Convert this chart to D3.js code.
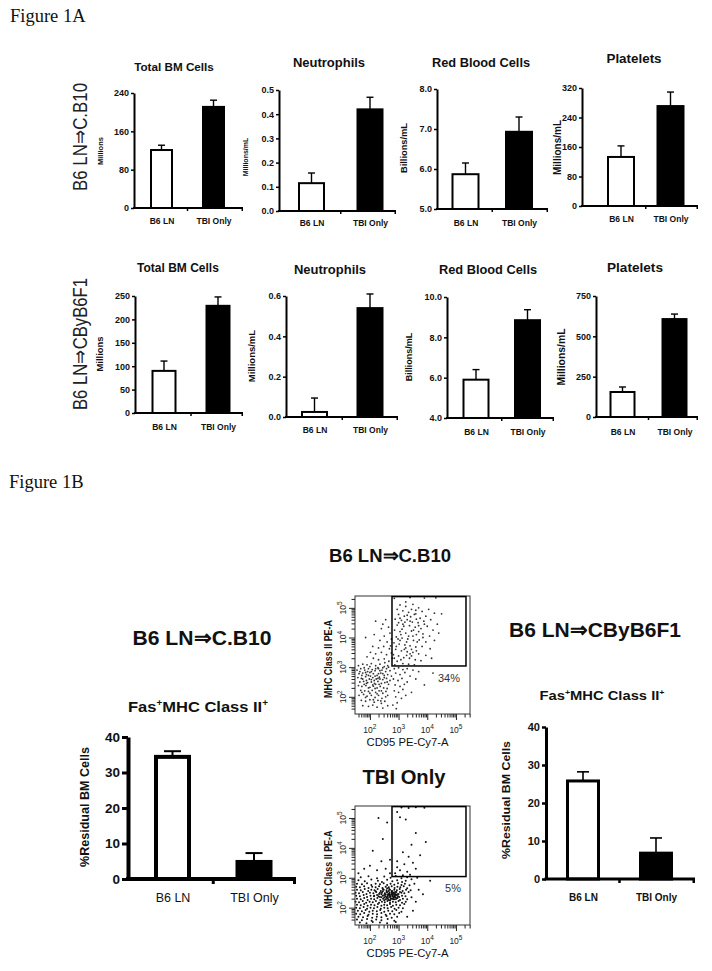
<!DOCTYPE html>
<html><head><meta charset="utf-8">
<script src="https://cdn.jsdelivr.net/npm/d3@7"></script>
<style>body{margin:0;background:#fff}svg{display:block}</style>
</head><body><svg id="c" width="712" height="971"></svg>
<script>
// ---------------- DATA ----------------
const groups = ["B6 LN", "TBI Only"];
const titles = ["Total BM Cells", "Neutrophils", "Red Blood Cells", "Platelets"];
const units = ["Millions", "Millions/mL", "Billions/mL", "Millions/mL"];
const rowLabels = ["B6 LN\u21D2C.B10", "B6 LN\u21D2CByB6F1"];

// Figure 1A row 1 (B6 LN => C.B10)
const row1Means = [[121, 211], [0.115, 0.42], [5.87, 6.93], [133, 271]];
const row1Sem = [[10, 14], [0.042, 0.05], [0.28, 0.37], [30, 38]];
const row1Ticks = [[0, 80, 160, 240], [0, 0.1, 0.2, 0.3, 0.4, 0.5], [5, 6, 7, 8], [0, 80, 160, 240, 320]];
const row1Fmt = ["d", ".1f", ".1f", "d"];

// Figure 1A row 2 (B6 LN => CByB6F1)
const row2Means = [[90, 229], [0.025, 0.54], [5.9, 8.85], [155, 607]];
const row2Sem = [[21, 19], [0.069, 0.07], [0.5, 0.52], [31, 31]];
const row2Ticks = [[0, 50, 100, 150, 200, 250], [0, 0.2, 0.4, 0.6], [4, 6, 8, 10], [0, 250, 500, 750]];
const row2Fmt = ["d", ".1f", ".1f", "d"];

// Figure 1B bar charts (% residual BM cells, Fas+ MHC class II+)
const fasMeansCB10 = [34.4, 4.8];
const fasSemCB10 = [1.6, 2.5];
const fasMeansCBy = [25.8, 6.8];
const fasSemCBy = [2.4, 4.0];
const fasTicks = [0, 10, 20, 30, 40];

// Flow plots: log10(CD95 PE-Cy7-A), log10(MHC Class II PE-A)
const flowDecades = [2, 3, 4, 5];
const flowLogX = [1.48, 5.49];
const flowLogY = [1.42, 5.4];
const gateLogX = [2.77, 5.35];
const gateLogY = [3.04, 5.38];
const gatePct = ["34%", "5%"];
const flowCB10 = [
[2.85,5.32],[3.4,5.35],[3.9,5.33],[4.3,5.34],[3.05,5.1],[3.25,5.05],[3.5,5.12],[3.7,5.0],[2.95,4.95],[3.15,4.9],[3.35,4.85],[3.6,4.92],[3.82,4.88],[4.05,4.95],[4.25,4.82],[3.0,4.78],[3.2,4.72],[3.42,4.7],[3.55,4.78],[3.75,4.65],[3.95,4.72],[4.5,4.8],[2.88,4.62],[3.1,4.58],[3.3,4.6],[3.48,4.52],[3.68,4.5],[3.88,4.55],[4.12,4.6],[4.35,4.45],[2.95,4.42],[3.18,4.38],[3.38,4.4],[3.58,4.35],[3.78,4.3],[4.0,4.38],[4.2,4.25],[2.86,4.25],[3.05,4.2],[3.25,4.15],[3.45,4.22],[3.62,4.1],[3.85,4.12],[4.08,4.05],[2.92,4.02],[3.12,3.98],[3.32,3.95],[3.52,3.9],[3.72,3.92],[3.95,3.85],[4.25,3.9],[2.84,3.82],[3.02,3.78],[3.22,3.75],[3.4,3.72],[3.6,3.68],[3.82,3.7],[4.1,3.62],[2.9,3.6],[3.1,3.55],[3.3,3.52],[3.5,3.5],[3.7,3.45],[3.95,3.4],[2.82,3.42],[3.0,3.38],[3.18,3.32],[3.38,3.3],[3.58,3.25],[3.78,3.22],[2.95,3.2],[3.15,3.12],[3.35,3.1],[3.55,3.08],[2.87,3.08],[3.08,3.25],[3.28,3.4],[3.45,3.6],[3.65,3.85],[3.35,4.05],[3.15,4.45],[3.45,4.95],[3.9,4.45],[3.62,4.62],[4.4,4.15],[4.15,3.3],[3.05,4.65],[2.98,3.95],[3.25,3.65],[3.52,4.25],
[3.0,4.5],[3.22,4.52],[3.4,4.55],[3.7,4.4],[3.12,4.28],[3.5,4.05],[3.28,3.85],[3.05,3.9],[3.62,3.55],[2.92,3.7],[3.2,3.6],[3.4,3.45],[3.85,4.0],[3.3,4.75],[3.08,4.1],[3.7,4.2],[2.85,3.3],[3.45,3.38],[3.6,4.8],[3.25,5.2],
[2.2,4.55],[2.55,4.6],[2.4,4.3],[2.65,4.35],[2.15,4.1],[2.5,4.05],[2.7,4.15],[2.35,3.9],[2.6,3.85],[2.75,3.95],[2.1,3.7],[2.3,3.65],[2.48,3.7],[2.68,3.62],[2.02,3.5],[2.2,3.45],[2.4,3.5],[2.58,3.42],[2.75,3.48],[1.9,3.35],[2.12,3.3],[2.3,3.25],[2.5,3.28],[2.66,3.2],[2.78,3.3],[1.85,4.0],[2.45,4.45],[2.62,3.05],[2.72,3.72],[2.52,3.15],
[1.6,3.05],[1.75,3.1],[1.9,3.08],[2.05,3.12],[2.2,3.05],[2.35,3.1],[2.5,3.02],[2.65,3.0],[1.55,2.9],[1.68,2.95],[1.82,2.9],[1.95,2.95],[2.08,2.92],[2.18,2.88],[2.3,2.95],[2.42,2.9],[2.55,2.85],[2.7,2.88],[1.62,2.78],[1.75,2.8],[1.88,2.75],[2.0,2.82],[2.12,2.78],[2.25,2.72],[2.38,2.8],[2.5,2.72],[2.62,2.75],[2.75,2.7],[1.58,2.65],[1.7,2.62],[1.85,2.68],[1.98,2.6],[2.1,2.65],[2.22,2.6],[2.33,2.66],[2.45,2.58],[2.58,2.62],[2.7,2.55],[1.65,2.5],[1.78,2.52],[1.92,2.48],[2.05,2.5],[2.16,2.45],[2.28,2.52],[2.4,2.45],[2.52,2.48],[2.65,2.42],[1.6,2.38],[1.72,2.35],[1.86,2.38],[2.0,2.32],[2.12,2.36],[2.25,2.3],[2.36,2.35],[2.48,2.3],[2.6,2.28],[1.68,2.22],[1.82,2.2],[1.95,2.18],[2.08,2.22],[2.2,2.15],[2.32,2.2],[2.45,2.12],[2.56,2.18],[1.62,2.05],[1.78,2.08],[1.9,2.02],[2.05,2.05],[2.18,1.98],[2.3,2.05],[2.42,1.95],[2.55,2.0],[1.7,1.88],[1.85,1.85],[2.0,1.9],[2.15,1.82],[2.28,1.88],[2.4,1.78],[2.52,1.85],[1.75,1.7],[1.95,1.68],[2.1,1.72],[2.25,1.65],[2.45,1.62],[2.62,1.7],[1.88,2.55],[2.02,2.7],[2.15,2.55],[1.8,2.42],[2.2,2.42],[1.92,2.85],[2.35,2.6],[2.58,2.95],[2.45,2.78],[1.72,2.72],
[1.8,2.98],[2.0,3.02],[2.28,2.98],[2.45,2.98],[1.65,2.85],[1.85,2.82],[2.05,2.85],[2.2,2.95],[2.35,2.88],[1.95,2.72],[2.18,2.7],[2.3,2.78],[2.5,2.65],[1.75,2.6],[2.05,2.58],[2.28,2.62],[1.88,2.45],[2.1,2.4],[2.32,2.42],[2.6,2.5],[1.95,2.3],[2.18,2.28],[2.4,2.2],[1.72,2.15],[2.0,2.12],[2.25,2.1],[1.85,1.98],[2.12,1.9],[2.38,1.86],[2.62,2.05],
[2.85,2.95],[3.0,2.98],[3.15,2.92],[3.3,2.95],[3.5,2.9],[2.9,2.8],[3.05,2.75],[3.22,2.82],[3.4,2.7],[2.82,2.6],[2.98,2.55],[3.12,2.62],[3.3,2.5],[2.88,2.4],[3.05,2.35],[3.2,2.42],[2.85,2.2],[3.0,2.15],[3.15,2.25],[2.9,2.0],[3.1,1.95],[2.95,1.8],[2.8,1.72],[3.6,2.6],[3.9,2.4],[3.45,2.15],[4.2,2.8],[3.7,2.85],[2.92,1.6],[3.25,2.05]
];
const flowTBI = [
[3.1,5.35],[3.35,5.33],[3.6,5.36],[3.9,5.34],[2.95,5.2],[3.05,5.02],[3.25,4.95],[3.6,4.5],[3.45,4.1],[3.95,4.2],[3.15,3.85],[3.35,3.7],[2.95,3.55],[3.2,3.45],[3.5,3.5],[3.05,3.25],[3.3,3.2],[2.88,3.15],[3.6,3.3],[3.15,3.08],[2.95,3.35],[3.75,3.75],
[2.3,5.0],[2.6,4.85],[2.45,4.3],[2.1,3.9],[2.7,3.6],[2.4,3.55],[2.0,3.4],[2.55,3.3],[2.25,3.25],[2.7,3.15],[1.8,3.3],[1.6,3.15],
[1.68,3.02],[1.95,3.05],[2.25,2.98],[2.5,3.04],[2.72,3.0],[2.9,3.06],[3.1,2.98],[3.3,3.02],
[1.6,2.92],[1.82,2.88],[2.05,2.94],[2.28,2.9],[2.42,2.86],[2.6,2.93],[2.78,2.88],[2.95,2.92],[3.12,2.86],[3.25,2.9],[3.45,2.95],
[1.55,2.8],[1.72,2.78],[1.9,2.82],[2.05,2.76],[2.2,2.8],[2.35,2.78],[2.48,2.82],[2.6,2.76],[2.72,2.8],[2.85,2.77],[2.98,2.82],[3.1,2.76],[3.22,2.8],[3.38,2.75],
[1.52,2.7],[1.65,2.68],[1.8,2.72],[1.95,2.66],[2.08,2.7],[2.2,2.68],[2.32,2.72],[2.44,2.66],[2.55,2.7],[2.66,2.68],[2.76,2.72],[2.86,2.66],[2.96,2.7],[3.06,2.68],[3.18,2.72],[3.3,2.65],
[1.55,2.6],[1.68,2.58],[1.82,2.62],[1.94,2.56],[2.05,2.6],[2.16,2.58],[2.27,2.62],[2.38,2.56],[2.48,2.6],[2.58,2.58],[2.67,2.62],[2.76,2.56],[2.85,2.6],[2.94,2.58],[3.04,2.62],[3.14,2.56],[3.26,2.6],[3.42,2.58],
[1.5,2.5],[1.62,2.48],[1.75,2.52],[1.88,2.46],[2.0,2.5],[2.12,2.48],[2.22,2.52],[2.32,2.46],[2.42,2.5],[2.52,2.48],[2.6,2.52],[2.68,2.46],[2.76,2.5],[2.84,2.48],[2.92,2.52],[3.0,2.46],[3.1,2.5],[3.2,2.48],[3.35,2.52],
[1.52,2.4],[1.65,2.38],[1.78,2.42],[1.9,2.36],[2.02,2.4],[2.14,2.38],[2.25,2.42],[2.35,2.36],[2.45,2.4],[2.54,2.38],[2.62,2.42],[2.7,2.36],[2.78,2.4],[2.86,2.38],[2.94,2.42],[3.02,2.36],[3.12,2.4],[3.24,2.38],[2.66,2.44],[2.82,2.34],
[1.55,2.3],[1.68,2.28],[1.8,2.32],[1.92,2.26],[2.04,2.3],[2.15,2.28],[2.26,2.32],[2.36,2.26],[2.46,2.3],[2.55,2.28],[2.63,2.32],[2.71,2.26],[2.79,2.3],[2.87,2.28],[2.96,2.32],[3.05,2.26],[3.15,2.3],[3.3,2.28],
[1.5,2.2],[1.62,2.18],[1.75,2.22],[1.87,2.16],[1.99,2.2],[2.1,2.18],[2.21,2.22],[2.32,2.16],[2.42,2.2],[2.52,2.18],[2.61,2.22],[2.7,2.16],[2.8,2.2],[2.9,2.18],[3.0,2.22],[3.12,2.16],[3.25,2.2],
[1.55,2.1],[1.68,2.08],[1.8,2.12],[1.92,2.06],[2.04,2.1],[2.16,2.08],[2.28,2.12],[2.4,2.06],[2.5,2.1],[2.6,2.08],[2.7,2.12],[2.8,2.06],[2.92,2.1],[3.05,2.08],[3.2,2.12],
[1.52,2.0],[1.65,1.98],[1.78,2.02],[1.9,1.96],[2.02,2.0],[2.14,1.98],[2.26,2.02],[2.38,1.96],[2.5,2.0],[2.62,1.98],[2.74,2.02],[2.86,1.96],[3.0,2.0],[3.15,1.98],
[1.58,1.9],[1.72,1.88],[1.85,1.92],[1.98,1.86],[2.1,1.9],[2.24,1.88],[2.36,1.92],[2.5,1.86],[2.64,1.9],[2.78,1.88],[2.92,1.92],[3.1,1.86],
[1.52,1.8],[1.66,1.78],[1.8,1.82],[1.95,1.76],[2.1,1.8],[2.25,1.78],[2.4,1.82],[2.55,1.76],[2.7,1.8],[2.85,1.78],[3.02,1.82],
[1.6,1.7],[1.76,1.68],[1.92,1.72],[2.08,1.66],[2.24,1.7],[2.4,1.68],[2.58,1.72],[2.76,1.66],[2.95,1.7],
[1.55,1.6],[1.72,1.58],[1.9,1.62],[2.06,1.56],[2.22,1.6],[2.4,1.58],[2.62,1.62],[2.85,1.56],
[1.65,1.5],[1.88,1.48],[2.1,1.52],[2.35,1.5],[2.6,1.48],[2.9,1.52],
[2.75,2.45],[2.8,2.38],[2.72,2.32],[2.85,2.42],[2.68,2.5],[2.58,2.35],[2.9,2.35],[2.78,2.55],[2.5,2.42],[2.65,2.26],[2.88,2.52],[2.7,2.6],[2.45,2.55],[2.95,2.45],[2.6,2.65],[2.4,2.35],
[2.55,2.45],[2.62,2.38],[2.7,2.42],[2.78,2.48],[2.85,2.36],[2.74,2.3],[2.66,2.56],[2.82,2.28],[2.9,2.42],[2.58,2.52],[2.5,2.34],[2.72,2.38],[2.8,2.44],[2.64,2.46],[2.76,2.52],[2.88,2.46],[2.6,2.3],[2.68,2.4],[2.83,2.5],[2.7,2.24],[2.4,2.45],[2.3,2.38],[2.2,2.55],[2.45,2.62],[2.35,2.5],[2.98,2.38],[3.05,2.52],[2.92,2.3],[2.15,2.4],[2.5,2.25],
[3.55,2.8],[3.7,2.6],[3.6,2.2],[3.85,2.45],[3.5,1.9],[4.1,2.9],[3.45,2.35],[3.4,3.1],[3.65,3.0],[3.3,1.7]
];

// ---------------- LAYOUT ----------------
const FONT = "'Liberation Sans', Arial, Helvetica, sans-serif";
const INK = "#111";
const row1Layout = [
  {ax:134, axEnd:243, yTop:93, y0:208, c:[161.5,213.5], bw:21, tx:174, ty:71, tfs:11.7, ux:103, uy:151, ufs:7.5, cy:224},
  {ax:279, axEnd:396, yTop:90, y0:211, c:[311.5,370], bw:25, tx:329, ty:67, tfs:13, ux:248, uy:157, ufs:7, cy:226},
  {ax:437, axEnd:548, yTop:89, y0:209, c:[465.5,519], bw:26, tx:481, ty:67, tfs:12.8, ux:407, uy:148, ufs:9.3, cy:226},
  {ax:582, axEnd:698, yTop:88, y0:206, c:[621,670.5], bw:26, tx:634, ty:63, tfs:13.4, ux:561, uy:147.5, ufs:10, cy:222}
];
const row2Layout = [
  {ax:135, axEnd:243, yTop:296, y0:413, c:[164,218], bw:23, tx:178, ty:272, tfs:12, ux:103, uy:354, ufs:9.4, cy:430},
  {ax:286, axEnd:398, yTop:296, y0:417, c:[314.5,370], bw:25, tx:330, ty:274, tfs:13, ux:255, uy:356, ufs:9.5, cy:433},
  {ax:447, axEnd:554, yTop:297, y0:418, c:[476,527.5], bw:25, tx:488, ty:274, tfs:12.8, ux:412, uy:357, ufs:9, cy:435},
  {ax:596, axEnd:698, yTop:296, y0:417, c:[622.5,674.5], bw:24, tx:635, ty:272, tfs:13.6, ux:565, uy:357, ufs:10.4, cy:435}
];
const smallStyle = {aw:2, bs:2, ew:1.4, cap:7, ts:3, tw:1.5, tfsz:9, cfs:8.5, xt:3};

const svg = d3.select("#c");

function txt(g, x, y, s, o) {
  const t = g.append("text").attr("x", x).attr("y", y).text(s)
    .attr("font-family", o.family || FONT).attr("font-size", o.size)
    .attr("font-weight", o.weight || "normal").attr("fill", o.fill || INK)
    .attr("text-anchor", o.anchor || "middle");
  if (o.rot) t.attr("transform", `rotate(${o.rot},${x},${y})`);
  if (o.len) t.attr("textLength", o.len).attr("lengthAdjust", "spacingAndGlyphs");
  return t;
}

function barPanel(L, S, means, sems, ticks, fmt, title, unit) {
  const g = svg.append("g");
  const y = d3.scaleLinear().domain([ticks[0], ticks[ticks.length - 1]]).range([L.y0, L.yTop]);
  const x = d3.scalePoint().domain(groups).range(L.c);
  g.selectAll("rect.bar").data(groups).join("rect").attr("class", "bar")
    .attr("x", d => x(d) - L.bw / 2).attr("width", L.bw)
    .attr("y", (d, i) => y(means[i])).attr("height", (d, i) => L.y0 - y(means[i]))
    .attr("fill", (d, i) => i ? "#000" : "#fff").attr("stroke", "#000").attr("stroke-width", S.bs);
  groups.forEach((d, i) => {
    const top = y(means[i] + sems[i]);
    g.append("line").attr("x1", x(d)).attr("x2", x(d)).attr("y1", y(means[i])).attr("y2", top)
      .attr("stroke", "#000").attr("stroke-width", S.ew);
    g.append("line").attr("x1", x(d) - S.cap / 2).attr("x2", x(d) + S.cap / 2).attr("y1", top).attr("y2", top)
      .attr("stroke", "#000").attr("stroke-width", S.ew);
  });
  const ya = d3.axisLeft(y).tickValues(ticks).tickFormat(d3.format(fmt)).tickSize(S.ts).tickSizeOuter(0).tickPadding(2);
  const yg = g.append("g").attr("transform", `translate(${L.ax},0)`).call(ya);
  yg.select(".domain").attr("stroke", "#000").attr("stroke-width", S.aw);
  yg.selectAll(".tick line").attr("stroke", "#000").attr("stroke-width", S.tw);
  yg.selectAll("text").attr("font-size", S.tfsz).attr("font-weight", "bold").attr("font-family", FONT).attr("fill", INK);
  g.append("line").attr("x1", L.ax - S.aw / 2).attr("x2", L.axEnd).attr("y1", L.y0).attr("y2", L.y0)
    .attr("stroke", "#000").attr("stroke-width", S.aw);
  [(L.c[0] + L.c[1]) / 2, L.axEnd - S.tw / 2].forEach(xx => {
    g.append("line").attr("x1", xx).attr("x2", xx).attr("y1", L.y0).attr("y2", L.y0 + S.xt)
      .attr("stroke", "#000").attr("stroke-width", S.tw);
  });
  const cfs = L.cfs || S.cfs;
  const xa = d3.axisBottom(x).tickSize(0).tickPadding(L.cy - L.y0 - 0.71 * cfs);
  const xg = g.append("g").attr("transform", `translate(0,${L.y0})`).call(xa);
  xg.select(".domain").remove();
  xg.selectAll("text").attr("font-size", cfs).attr("font-weight", S.cw || "bold").attr("font-family", FONT).attr("fill", INK);
  if (title) txt(g, L.tx, L.ty, title, {size: L.tfs, weight: "bold"});
  if (unit) txt(g, L.ux, L.uy, unit, {size: L.ufs, weight: "bold", rot: -90});
  return g;
}

txt(svg, 10, 22, "Figure 1A", {family: "'Liberation Serif', 'Times New Roman', serif", size: 18.5, anchor: "start"});
txt(svg, 9, 488, "Figure 1B", {family: "'Liberation Serif', 'Times New Roman', serif", size: 18.5, anchor: "start"});

txt(svg, 87, 137, rowLabels[0], {size: 21, rot: -90, len: 108, fill: "#222"});
txt(svg, 87, 344, rowLabels[1], {size: 21, rot: -90, len: 132, fill: "#222"});

row1Layout.forEach((L, i) => barPanel(L, smallStyle, row1Means[i], row1Sem[i], row1Ticks[i], row1Fmt[i], titles[i], units[i]));
row2Layout.forEach((L, i) => barPanel(L, smallStyle, row2Means[i], row2Sem[i], row2Ticks[i], row2Fmt[i], titles[i], units[i]));

const fasLeft = {ax:128, axEnd:296, yTop:737, y0:879, c:[172.5,254], bw:33, cy:902, cfs:12.5};
const fasRight = {ax:546, axEnd:695, yTop:727, y0:879, c:[583,656], bw:31, cy:901, cfs:10};
barPanel(fasLeft, {aw:4, bs:4, ew:2, cap:17, ts:6, tw:3, tfsz:13.5, cfs:12.5, xt:5, cw:"normal"}, fasMeansCB10, fasSemCB10, fasTicks, "d");
barPanel(fasRight, {aw:3, bs:3, ew:1.6, cap:12, ts:4, tw:2.5, tfsz:11, cfs:10, xt:4, cw:"bold"}, fasMeansCBy, fasSemCBy, fasTicks, "d");
txt(svg, 89, 807, "%Residual BM Cells", {size: 12, weight: "bold", rot: -90, len: 120});
txt(svg, 510, 800, "%Residual BM Cells", {size: 10.5, weight: "bold", rot: -90, len: 118});

function fasTitle(x, y, size, len) {
  const t = txt(svg, x, y, "", {size: size, weight: "bold", len: len});
  t.append("tspan").text("Fas");
  t.append("tspan").text("+").attr("font-size", size * 0.6).attr("dy", -size * 0.4);
  t.append("tspan").text("MHC Class II").attr("dy", size * 0.4);
  t.append("tspan").text("+").attr("font-size", size * 0.6).attr("dy", -size * 0.4);
}
fasTitle(198, 712, 15, 140);
fasTitle(602, 700, 13.5, 125);

txt(svg, 202, 645, rowLabels[0], {size: 21, weight: "bold", len: 139});
txt(svg, 595, 637, rowLabels[1], {size: 21, weight: "bold", len: 172});
txt(svg, 390, 562, rowLabels[0], {size: 18.6, weight: "bold", len: 122});
txt(svg, 404, 784, "TBI Only", {size: 20, weight: "bold", len: 83});

function flowPlot(L, pts, pct, dotFill) {
  const g = svg.append("g");
  const x = d3.scaleLog().domain(flowLogX.map(v => Math.pow(10, v))).range([L.x0, L.x1]);
  const y = d3.scaleLog().domain(flowLogY.map(v => Math.pow(10, v))).range([L.y1, L.y0]);
  g.selectAll("circle").data(pts).join("circle")
    .attr("cx", d => x(Math.pow(10, d[0]))).attr("cy", d => y(Math.pow(10, d[1])))
    .attr("r", L.r).attr("fill", dotFill);
  g.append("rect").attr("x", L.x0).attr("y", L.y0).attr("width", L.x1 - L.x0).attr("height", L.y1 - L.y0)
    .attr("fill", "none").attr("stroke", "#333").attr("stroke-width", 1);
  const gx0 = x(Math.pow(10, gateLogX[0])), gx1 = x(Math.pow(10, gateLogX[1]));
  const gy0 = y(Math.pow(10, gateLogY[1])), gy1 = y(Math.pow(10, gateLogY[0]));
  g.append("rect").attr("x", gx0).attr("y", gy0).attr("width", gx1 - gx0).attr("height", gy1 - gy0)
    .attr("fill", "none").attr("stroke", "#000").attr("stroke-width", 1.5);
  txt(g, L.px, L.py, pct, {size: 11, fill: "#333"});
  const tv = [];
  for (let d = 1; d <= 5; d++) for (let k = 1; k <= 9; k++) {
    const v = k * Math.pow(10, d);
    const lv = Math.log10(v);
    if (lv >= flowLogX[0] && lv <= flowLogX[1]) tv.push(v);
  }
  const xa = d3.axisBottom(x).tickValues(tv).tickFormat("").tickSizeOuter(0).tickSize(3);
  const xg = g.append("g").attr("transform", `translate(0,${L.y1})`).call(xa);
  xg.select(".domain").remove();
  xg.selectAll(".tick line").attr("stroke", "#222").attr("y2", d => Math.abs(Math.log10(d) % 1) < 1e-6 ? 6 : 3.5);
  const tvy = tv.filter(v => Math.log10(v) >= flowLogY[0] && Math.log10(v) <= flowLogY[1]);
  const ya = d3.axisLeft(y).tickValues(tvy).tickFormat("").tickSizeOuter(0).tickSize(3);
  const yg = g.append("g").attr("transform", `translate(${L.x0},0)`).call(ya);
  yg.select(".domain").remove();
  yg.selectAll(".tick line").attr("stroke", "#222").attr("x2", d => Math.abs(Math.log10(d) % 1) < 1e-6 ? -6 : -3.5);
  flowDecades.forEach(dd => {
    const xv = x(Math.pow(10, dd));
    const t = txt(g, xv, L.y1 + 19, "", {size: 8.5, fill: "#222"});
    t.append("tspan").text("10");
    t.append("tspan").text(dd).attr("font-size", 6.5).attr("dy", -4);
    const yv = y(Math.pow(10, dd));
    const t2 = txt(g, L.x0 - 9, yv, "", {size: 8.5, fill: "#222", rot: -90});
    t2.append("tspan").text("10");
    t2.append("tspan").text(dd).attr("font-size", 6.5).attr("dy", -4);
  });
  txt(g, (L.x0 + L.x1) / 2 - 5, L.y1 + 32, "CD95 PE-Cy7-A", {size: 11, len: 82});
  txt(g, L.x0 - 23, (L.y0 + L.y1) / 2 + 4, "MHC Class II PE-A", {size: 10, weight: "bold", rot: -90, len: 78});
}
flowPlot({x0:355, x1:470, y0:596, y1:714, r:0.9, px:449, py:682}, flowCB10, gatePct[0], "#333");
flowPlot({x0:355, x1:470, y0:806, y1:925, r:1.0, px:453, py:892}, flowTBI, gatePct[1], "#111");
</script>
</body></html>
